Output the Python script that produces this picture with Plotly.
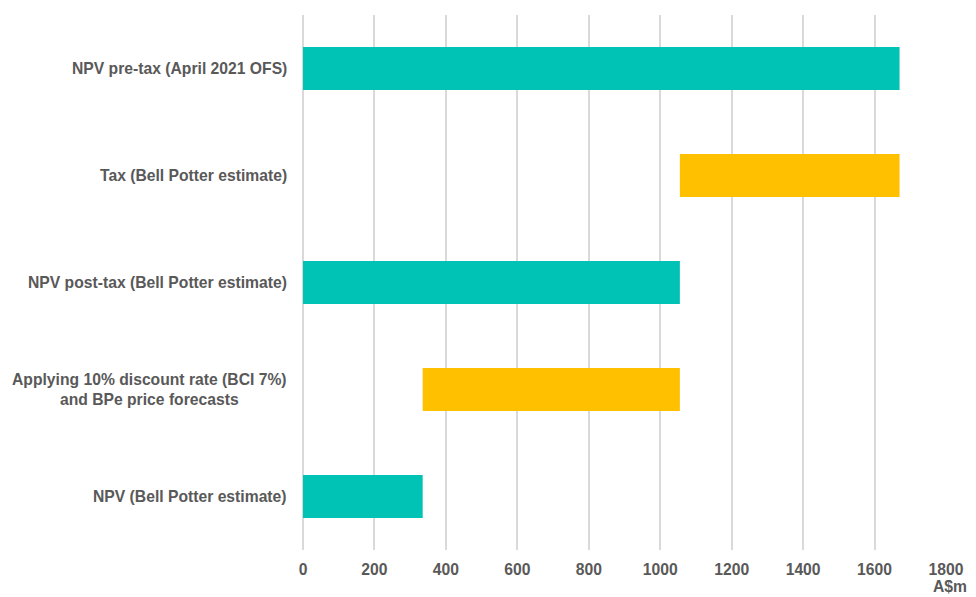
import plotly.graph_objects as go

categories = [
    "NPV pre-tax (April 2021 OFS)",
    "Tax (Bell Potter estimate)",
    "NPV post-tax (Bell Potter estimate)",
    "Applying 10% discount rate (BCI 7%)<br>and BPe price forecasts",
    "NPV (Bell Potter estimate)",
]
measures = ["absolute", "relative", "total", "relative", "total"]
values = [1670, -615, 0, -720, 0]
x_ticks = [0, 200, 400, 600, 800, 1000, 1200, 1400, 1600, 1800]

TEAL = "#00C2B5"
GOLD = "#FFC000"
TXT = "#595959"
FONT = "Liberation Sans, Arial, sans-serif"
FS = 15.7

fig = go.Figure(go.Waterfall(
    orientation="h",
    y=categories,
    x=values,
    measure=measures,
    totals=dict(marker=dict(color=TEAL)),
    decreasing=dict(marker=dict(color=GOLD)),
    increasing=dict(marker=dict(color=TEAL)),
    connector=dict(visible=False),
    hoverinfo="skip",
))

for c in categories:
    fig.add_annotation(
        x=0, xref="paper", y=c, yref="y",
        text="<b>%s</b>" % c, showarrow=False,
        xanchor="right", yanchor="middle", align="center",
        xshift=-14, font=dict(family=FONT, size=FS, color=TXT),
    )

fig.add_annotation(
    x=1, xref="paper", y=0, yref="paper", text="<b>A$m</b>",
    showarrow=False, xanchor="right", yanchor="bottom",
    xshift=22, yshift=-46, borderpad=0,
    font=dict(family=FONT, size=FS, color=TXT),
)

fig.update_layout(
    width=976, height=597,
    margin=dict(l=303, r=27, t=15, b=47),
    paper_bgcolor="white", plot_bgcolor="white",
    showlegend=False,
    waterfallgap=0.6,
    xaxis=dict(
        range=[0, 1800], tickvals=x_ticks,
        ticktext=["<b>%d</b>" % v for v in x_ticks],
        showgrid=True, gridcolor="#D9D9D9", gridwidth=1.5,
        zeroline=True, zerolinecolor="#D9D9D9", zerolinewidth=1.5,
        showline=False, ticks="", ticklabelstandoff=8,
        tickfont=dict(family=FONT, size=FS, color=TXT),
    ),
    yaxis=dict(
        autorange="reversed", showticklabels=False, showgrid=False,
        zeroline=False, showline=False, ticks="",
    ),
)

fig.write_html("out.html")
